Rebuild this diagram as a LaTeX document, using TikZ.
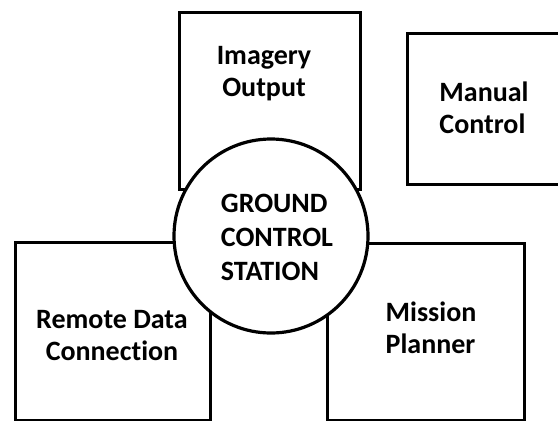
\documentclass[tikz,border=0pt]{standalone}
\usepackage{fontspec}
\setmainfont[Ligatures={NoCommon,NoRare,NoDiscretionary}]{Carlito}
\begin{document}
\begin{tikzpicture}[x=1pt,y=-1pt,
  box/.style={draw=black,line width=3.2pt,rectangle,inner sep=0pt,anchor=north west},
  hub/.style={draw=black,fill=white,line width=3.2pt,circle,inner sep=0pt,minimum size=194pt},
  lbl/.style={font=\bfseries\fontsize{28}{32}\selectfont,text=black,inner sep=0pt}]
\useasboundingbox (0,0) rectangle (558,421);
\clip (0,0) rectangle (558,421);
\node[box,minimum width=181pt,minimum height=177pt] (img) at (178,11) {};
\node[box,minimum width=175pt,minimum height=151pt] (man) at (406,32) {};
\node[box,minimum width=195pt,minimum height=178pt] (rem) at (14,241) {};
\node[box,minimum width=197pt,minimum height=177pt] (mis) at (326,242) {};
\node[hub] (gcs) at (271,236) {};
\node[lbl,align=center] (imgt) at (264,74) {Imagery\\Output};
\node[lbl,align=left] (mant) at (484,108) {Manual\\Control};
\node[lbl,align=left,font=\bfseries\fontsize{28}{34}\selectfont] (gcst) at (277,237) {GROUND\\CONTROL\\STATION};
\node[lbl,align=center] (remt) at (112,336) {Remote Data\\Connection};
\node[lbl,align=left] (mist) at (431,328) {Mission\\Planner};
\end{tikzpicture}
\end{document}
